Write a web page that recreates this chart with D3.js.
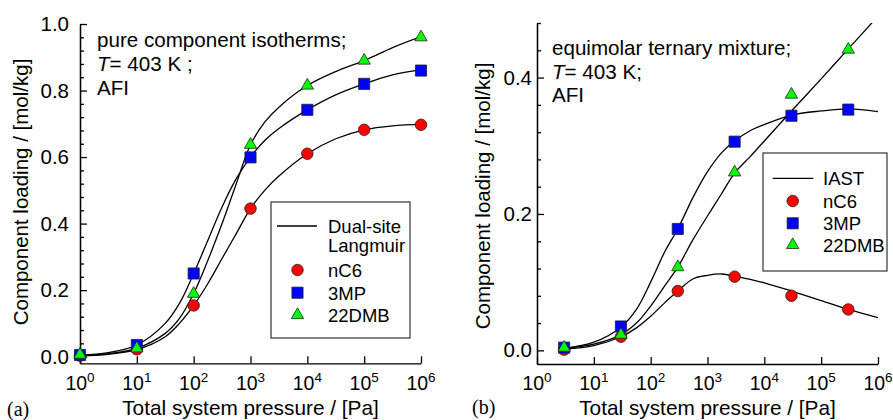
<!DOCTYPE html>
<html>
<head>
<meta charset="utf-8">
<script src="https://cdn.jsdelivr.net/npm/d3@7"></script>
<style>
  body { margin: 0; background: #fff; }
  text { font-family: "Liberation Sans", Arial, sans-serif; fill: #000; }
</style>
</head>
<body>
<script>
// ---- data ----
// (a) pure component isotherms
var pressA = [1, 10, 100, 1000, 1e4, 1e5, 1e6];
var nC6A  = [0.003, 0.022, 0.154, 0.445, 0.61, 0.682, 0.697];
var mp3A  = [0.005, 0.035, 0.25, 0.599, 0.742, 0.82, 0.86];
var dmbA  = [0.006, 0.025, 0.189, 0.637, 0.815, 0.89, 0.96];
// dual-site Langmuir curves (read at these pressures)
var fitPressA = [1, 3.16, 10, 31.6, 56.2, 100, 178, 316, 562, 1000, 1778, 3162, 1e4, 31623, 1e5, 316228, 1e6];
var nC6FitA = [0.002, 0.007, 0.021, 0.06, 0.10, 0.154, 0.22, 0.295, 0.37, 0.445, 0.50, 0.543, 0.61, 0.655, 0.682, 0.694, 0.698];
var mp3FitA = [0.004, 0.012, 0.035, 0.10, 0.16, 0.25, 0.35, 0.45, 0.535, 0.60, 0.65, 0.686, 0.742, 0.787, 0.82, 0.847, 0.862];
var dmbFitA = [0.003, 0.009, 0.025, 0.07, 0.115, 0.19, 0.29, 0.40, 0.52, 0.637, 0.705, 0.75, 0.815, 0.857, 0.89, 0.929, 0.962];

// (b) equimolar ternary mixture
var pressB = [3, 30, 300, 3000, 3e4, 3e5];
var nC6B  = [0.001, 0.02, 0.087, 0.108, 0.08, 0.06];
var mp3B  = [0.004, 0.035, 0.178, 0.306, 0.344, 0.353];
var dmbB  = [0.004, 0.023, 0.122, 0.261, 0.375, 0.441];
// IAST curves
var fitPressB = [3, 10, 30, 56.2, 100, 178, 300, 562, 1000, 1778, 3000, 5623, 1e4, 3e4, 1e5, 3e5, 1e6];
var nC6FitB = [0.002, 0.007, 0.02, 0.033, 0.05, 0.07, 0.087, 0.105, 0.110, 0.112, 0.109, 0.104, 0.099, 0.087, 0.073, 0.060, 0.048];
var mp3FitB = [0.003, 0.012, 0.034, 0.06, 0.10, 0.145, 0.178, 0.225, 0.262, 0.29, 0.307, 0.322, 0.331, 0.345, 0.351, 0.354, 0.350];
var dmbFitB = [0.003, 0.009, 0.023, 0.04, 0.065, 0.095, 0.122, 0.163, 0.197, 0.23, 0.26, 0.284, 0.307, 0.351, 0.398, 0.442, 0.49];

var decades = [1, 10, 100, 1000, 1e4, 1e5, 1e6];
var exponents = ["0", "1", "2", "3", "4", "5", "6"];
var seriesNames = ["nC6", "3MP", "22DMB"];
var colors = ["#ff0000", "#0000ff", "#00ff00"];
var shapes = [d3.symbolCircle, d3.symbolSquare, d3.symbolTriangle];
var shapeSize = [104, 124, 66];

var width = 893, height = 420;
var svg = d3.select("body").append("svg")
    .attr("width", width)
    .attr("height", height);

function marker(g, i, cx, cy) {
  g.append("path")
    .attr("d", d3.symbol().type(shapes[i]).size(shapeSize[i])())
    .attr("transform", "translate(" + cx + "," + cy + ")")
    .attr("fill", colors[i])
    .attr("stroke", "#222")
    .attr("stroke-width", 0.8);
}

function drawPanel(o) {
  var x = d3.scaleLog().domain([1, 1e6]).range(o.xr);
  var y = d3.scaleLinear().domain(o.yd).range(o.yr);
  var g = svg.append("g");

  svg.append("clipPath").attr("id", o.id + "clip")
    .append("rect")
      .attr("x", o.xr[0]).attr("y", o.yr[1])
      .attr("width", o.xr[1] - o.xr[0]).attr("height", o.yr[0] - o.yr[1]);

  // y axis: minor + major ticks, pointing inward
  g.append("g")
    .attr("transform", "translate(" + o.xr[0] + ",0)")
    .call(d3.axisLeft(y).tickValues(o.minor).tickSize(-4).tickSizeOuter(0).tickFormat(""));
  var ya = g.append("g")
    .attr("transform", "translate(" + o.xr[0] + ",0)")
    .call(d3.axisLeft(y).tickValues(o.major).tickSize(-7).tickSizeOuter(0)
      .tickPadding(o.pad).tickFormat(d3.format(".1f")));
  ya.attr("font-size", 20.5).attr("font-family", "Liberation Sans, Arial, sans-serif");

  // x axis
  g.append("g")
    .attr("transform", "translate(0," + o.yr[0] + ")")
    .call(d3.axisBottom(x).tickValues(decades).tickSize(-7).tickSizeOuter(0).tickFormat(""));
  g.selectAll(".domain, .tick line").attr("stroke", "#000").attr("stroke-width", 1.3);

  decades.forEach(function(d, i) {
    var t = g.append("text")
      .attr("x", x(d)).attr("y", 390)
      .attr("text-anchor", "middle")
      .attr("font-size", 19.5);
    t.append("tspan").text("10");
    t.append("tspan").attr("dy", -8).attr("font-size", 13.5).text(exponents[i]);
  });

  // axis titles
  g.append("text")
    .attr("x", (o.xr[0] + o.xr[1]) / 2).attr("y", 415)
    .attr("text-anchor", "middle").attr("font-size", 20.8)
    .text("Total system pressure / [Pa]");
  g.append("text")
    .attr("transform", "translate(" + o.ylabX + "," + o.ylabY + ") rotate(-90)")
    .attr("text-anchor", "middle").attr("dy", "0.35em").attr("font-size", 20.5)
    .text("Component loading / [mol/kg]");
  g.append("text")
    .attr("x", o.tagX).attr("y", o.tagY)
    .style("font-family", "Liberation Serif, Times New Roman, serif")
    .attr("font-size", 20)
    .text(o.tag);

  // annotation
  o.notes.forEach(function(line, i) {
    var t = g.append("text")
      .attr("x", o.noteX).attr("y", o.noteY[i]).attr("font-size", 20.6);
    if (line.italic) {
      t.append("tspan").attr("font-style", "italic").text(line.italic);
    }
    t.append("tspan").text(line.text);
  });

  // curves
  var line = d3.line()
    .x(function(d) { return x(d[0]); })
    .y(function(d) { return y(d[1]); })
    .curve(d3.curveCatmullRom.alpha(0.5));
  o.fits.forEach(function(vals) {
    g.append("path")
      .datum(o.fitP.map(function(p, k) { return [p, vals[k]]; }))
      .attr("d", line)
      .attr("fill", "none")
      .attr("stroke", "#000")
      .attr("stroke-width", 1.3)
      .attr("clip-path", "url(#" + o.id + "clip)");
  });

  // markers
  o.points.forEach(function(vals, i) {
    o.p.forEach(function(p, k) {
      marker(g, i, x(p), y(vals[k]));
    });
  });

  // legend
  var L = o.legend;
  g.append("rect")
    .attr("x", L.x).attr("y", L.y).attr("width", L.w).attr("height", L.h)
    .attr("fill", "#fff").attr("stroke", "#333").attr("stroke-width", 1.2);
  g.append("line")
    .attr("x1", L.lineX[0]).attr("x2", L.lineX[1])
    .attr("y1", L.lineY).attr("y2", L.lineY)
    .attr("stroke", "#000").attr("stroke-width", 1.3);
  L.lineText.forEach(function(s, i) {
    g.append("text").attr("x", L.textX).attr("y", L.lineTextY[i])
      .attr("font-size", 18.5).text(s);
  });
  seriesNames.forEach(function(s, i) {
    marker(g, i, L.markX, L.markY[i]);
    g.append("text").attr("x", L.textX).attr("y", L.markY[i] + 7)
      .attr("font-size", 18.5).text(s);
  });
}

function minorTicks(top) {
  return d3.range(0, top + 0.001, 0.04).filter(function(v) {
    return Math.abs(v / 0.2 - Math.round(v / 0.2)) > 0.01;
  });
}

drawPanel({
  id: "a",
  xr: [80, 421], yr: [363.3, 24], yd: [-0.02, 1.0],
  major: [0, 0.2, 0.4, 0.6, 0.8, 1.0], minor: minorTicks(1.0), pad: 11,
  ylabX: 21, ylabY: 192,
  tag: "(a)", tagX: 7, tagY: 416,
  noteX: 97, noteY: [47, 71, 95],
  notes: [{text: "pure component isotherms;"}, {italic: "T", text: "= 403 K ;"}, {text: "AFI"}],
  fitP: fitPressA, fits: [nC6FitA, mp3FitA, dmbFitA],
  p: pressA, points: [nC6A, mp3A, dmbA],
  legend: {x: 271, y: 202, w: 139, h: 136, lineX: [277, 317], lineY: 226,
           lineText: ["Dual-site", "Langmuir"], lineTextY: [233, 252],
           textX: 328, markX: 297.5, markY: [270, 292.7, 315]}
});

drawPanel({
  id: "b",
  xr: [537, 878], yr: [364, 23], yd: [-0.02, 0.48],
  major: [0, 0.2, 0.4], minor: minorTicks(0.48), pad: 5,
  ylabX: 483, ylabY: 196,
  tag: "(b)", tagX: 472, tagY: 414,
  noteX: 552, noteY: [55, 79, 102],
  notes: [{text: "equimolar ternary mixture;"}, {italic: "T", text: "= 403 K;"}, {text: "AFI"}],
  fitP: fitPressB, fits: [nC6FitB, mp3FitB, dmbFitB],
  p: pressB, points: [nC6B, mp3B, dmbB],
  legend: {x: 763, y: 153, w: 124, h: 118, lineX: [772.7, 813.3], lineY: 178.3,
           lineText: ["IAST"], lineTextY: [185],
           textX: 823, markX: 792.7, markY: [201, 223.3, 245]}
});
</script>
</body>
</html>
